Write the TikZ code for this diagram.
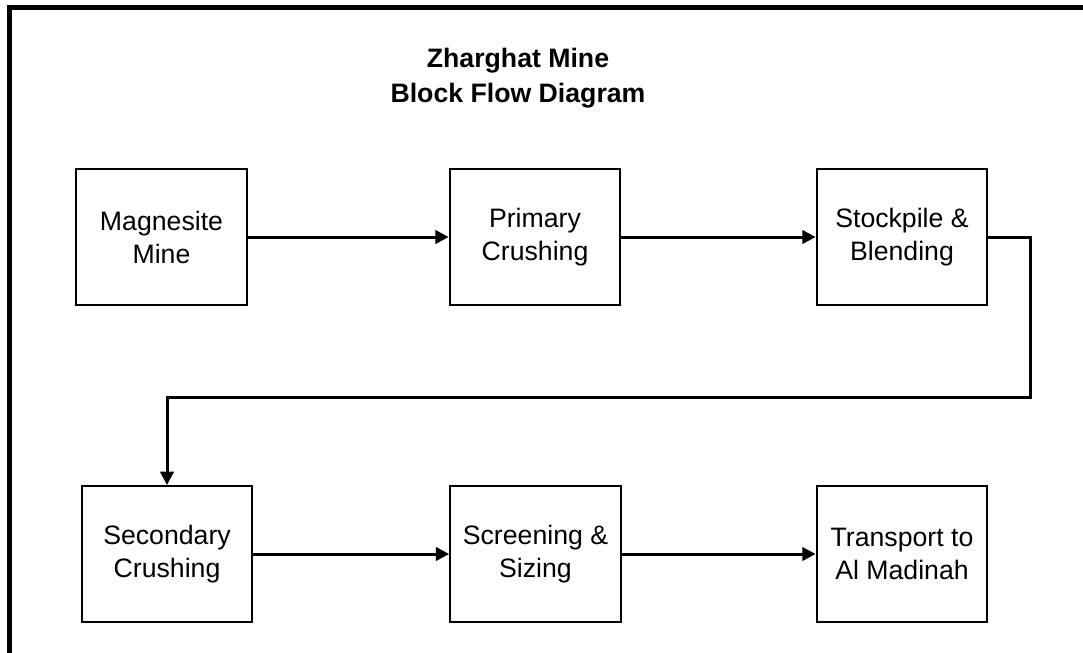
\documentclass[tikz,border=0pt]{standalone}
\usepackage{fontspec}
\setmainfont{Liberation Sans}
\usetikzlibrary{arrows.meta}

\tikzset{
  unit/.style={draw, line width=1.5pt, minimum width=128pt, minimum height=102pt,
    align=center, font=\fontsize{20}{24.75}\selectfont},
  flow/.style={line width=2.25pt, -{Triangle[length=10pt,width=10pt]}}
}

\begin{document}
\begin{tikzpicture}[x=0.75pt, y=-0.75pt]

\useasboundingbox (0,0) rectangle (1083,653);

% Frame
\draw[line width=3.75pt, line join=miter] (9.5,660) -- (9.5,7.5) -- (1090,7.5);

% Title
\node[font=\bfseries\fontsize{20}{26.25}\selectfont, align=center] (title) at (518,78)
  {Zharghat Mine\\Block Flow Diagram};

% Process units, top row
\node[unit] (mine) at (161.5,237) {Magnesite\\Mine};
\node[unit] (primary) at (535,237) {Primary\\Crushing};
\node[unit] (stock) at (902,237) {Stockpile \&\\Blending};

% Process units, bottom row
\node[unit] (secondary) at (167,554) {Secondary\\Crushing};
\node[unit] (screen) at (535.5,554) {Screening \&\\Sizing};
\node[unit] (transport) at (902,554) {Transport to\\Al Madinah};

% Flow lines
\coordinate (turn) at (1030,397);
\draw[flow] (mine) -- (primary);
\draw[flow] (primary) -- (stock);
\draw[flow] (stock.east) -| (turn) -| (secondary.north);
\draw[flow] (secondary) -- (screen);
\draw[flow] (screen) -- (transport);

\end{tikzpicture}
\end{document}
